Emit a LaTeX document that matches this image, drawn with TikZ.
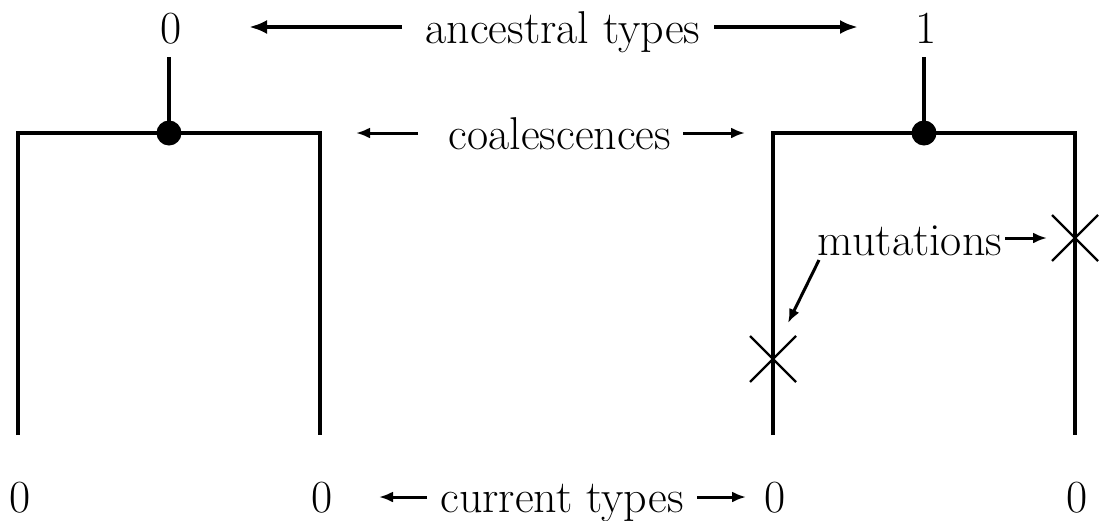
\documentclass[tikz,border=0pt]{standalone}
\usetikzlibrary{arrows.meta,calc}
\begin{document}
\begin{tikzpicture}[x=1pt,y=-1pt,
  lbl/.style={font=\fontsize{46}{55}\selectfont, inner sep=0pt, anchor=base},
  branch/.style={line width=3.6pt},
  bigarr/.style={line width=3.6pt,-{Latex[length=18pt,width=14pt]}},
  smallarr/.style={line width=3pt,-{Latex[length=14pt,width=11pt]}},
  blob/.style={circle,fill,inner sep=0pt,minimum size=25pt},
  cross/.style={line width=2.2pt}]
\useasboundingbox (0,0) rectangle (1100,520);
% left tree
\coordinate (L1) at (18,435);
\coordinate (L2) at (18,133);
\coordinate (R2) at (320,133);
\coordinate (R1) at (320,435);
\draw[branch] (L1) -- (L2) -- (R2) -- (R1);
\node[blob] (c0) at (169,133) {};
\coordinate (s0) at (169,57);
\draw[branch] (c0.center) -- (s0);
\node[lbl] (a0) at (171,43) {0};
% right tree
\coordinate (L3) at (773,435);
\coordinate (L4) at (773,133);
\coordinate (R4) at (1075,133);
\coordinate (R3) at (1075,435);
\draw[branch] (L3) -- (L4) -- (R4) -- (R3);
\node[blob] (c1) at (924,133) {};
\coordinate (s1) at (924,57);
\draw[branch] (c1.center) -- (s1);
\node[lbl] (a1) at (926,43) {1};
% mutations
\coordinate (m1) at (773,359);
\coordinate (m2) at (1075,238);
\draw[cross] ($(m1)+(-23,-23)$) -- ($(m1)+(23,23)$);
\draw[cross] ($(m1)+(-23,23)$) -- ($(m1)+(23,-23)$);
\draw[cross] ($(m2)+(-23,-23)$) -- ($(m2)+(23,23)$);
\draw[cross] ($(m2)+(-23,23)$) -- ($(m2)+(23,-23)$);
\node[lbl] (mut) at (910,255) {mutations};
\coordinate (mt1) at (819,260);
\coordinate (mh1) at (788,323);
\coordinate (mt2) at (1005,238);
\coordinate (mh2) at (1047,238);
\draw[smallarr] (mt1) -- (mh1);
\draw[smallarr] (mt2) -- (mh2);
% ancestral types
\node[lbl] (anc) at (563,43) {ancestral types};
\coordinate (at1) at (402,27);
\coordinate (ah1) at (249,27);
\coordinate (at2) at (714,27);
\coordinate (ah2) at (858,27);
\draw[bigarr] (at1) -- (ah1);
\draw[bigarr] (at2) -- (ah2);
% coalescences
\node[lbl] (coal) at (560,149) {coalescences};
\coordinate (ct1) at (418,133);
\coordinate (ch1) at (356,133);
\coordinate (ct2) at (683,133);
\coordinate (ch2) at (745,133);
\draw[smallarr] (ct1) -- (ch1);
\draw[smallarr] (ct2) -- (ch2);
% current types
\node[lbl] (b1) at (20,512) {0};
\node[lbl] (b2) at (322,512) {0};
\node[lbl] (b3) at (775,512) {0};
\node[lbl] (b4) at (1077,512) {0};
\node[lbl] (cur) at (562,512) {current types};
\coordinate (ut1) at (427,497);
\coordinate (uh1) at (379,497);
\coordinate (ut2) at (697,497);
\coordinate (uh2) at (746,497);
\draw[smallarr] (ut1) -- (uh1);
\draw[smallarr] (ut2) -- (uh2);
\end{tikzpicture}
\end{document}
